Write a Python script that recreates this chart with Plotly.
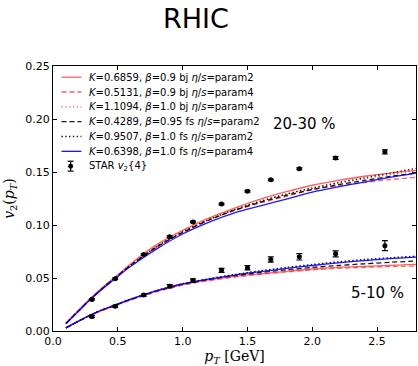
import plotly.graph_objects as go

# ---------------- data ----------------
pt_grid = [0.1, 0.2, 0.3, 0.4, 0.5, 0.6, 0.8, 1.0, 1.2, 1.4, 1.6, 1.8, 2.0, 2.2, 2.4, 2.6, 2.8]

# 20-30 % centrality model curves
c2030_k06859_bj_p2 = [0.0075, 0.020, 0.032, 0.043, 0.053, 0.0635, 0.0815, 0.095, 0.1065, 0.116, 0.1245, 0.1315, 0.1375, 0.142, 0.146, 0.149, 0.1515]
c2030_k05131_bj_p4 = [0.0072, 0.0195, 0.0315, 0.0425, 0.0525, 0.062, 0.079, 0.093, 0.1045, 0.1135, 0.121, 0.127, 0.1335, 0.137, 0.140, 0.1428, 0.145]
c2030_k11094_bj_p4 = [0.0072, 0.0195, 0.0315, 0.0425, 0.0525, 0.0625, 0.080, 0.0935, 0.105, 0.1145, 0.1225, 0.129, 0.1345, 0.1395, 0.1435, 0.1475, 0.1515]
c2030_k04289_fs_p2 = [0.007, 0.0193, 0.0313, 0.0422, 0.052, 0.062, 0.0793, 0.093, 0.1045, 0.114, 0.1215, 0.128, 0.1335, 0.138, 0.142, 0.1458, 0.149]
c2030_k09507_fs_p2 = [0.007, 0.0193, 0.0313, 0.0422, 0.052, 0.062, 0.0795, 0.0935, 0.105, 0.1145, 0.1225, 0.1292, 0.135, 0.140, 0.1445, 0.149, 0.1535]
c2030_k06398_fs_p4 = [0.0068, 0.019, 0.031, 0.0415, 0.0515, 0.061, 0.0775, 0.0915, 0.1025, 0.1115, 0.118, 0.1245, 0.131, 0.136, 0.1405, 0.145, 0.149]

# 5-10 % centrality model curves
c0510_k06859_bj_p2 = [0.003, 0.0095, 0.0155, 0.0205, 0.025, 0.0295, 0.0375, 0.0438, 0.0482, 0.0515, 0.054, 0.0563, 0.0585, 0.060, 0.061, 0.062, 0.0628]
c0510_k05131_bj_p4 = [0.003, 0.0093, 0.0153, 0.0203, 0.025, 0.0293, 0.037, 0.0432, 0.0475, 0.0508, 0.0535, 0.0557, 0.0577, 0.0591, 0.0601, 0.0608, 0.0613]
c0510_k11094_bj_p4 = [0.003, 0.0095, 0.0158, 0.021, 0.0255, 0.030, 0.038, 0.0445, 0.049, 0.053, 0.0565, 0.0595, 0.0622, 0.0647, 0.0668, 0.0686, 0.070]
c0510_k04289_fs_p2 = [0.003, 0.0095, 0.0157, 0.0208, 0.0253, 0.0298, 0.0378, 0.0442, 0.0487, 0.0522, 0.0552, 0.0578, 0.060, 0.0618, 0.0634, 0.0648, 0.066]
c0510_k09507_fs_p2 = [0.003, 0.0095, 0.0158, 0.021, 0.0256, 0.0301, 0.0382, 0.0447, 0.0493, 0.0533, 0.0568, 0.060, 0.0628, 0.0653, 0.0675, 0.0692, 0.0706]
c0510_k06398_fs_p4 = [0.003, 0.0095, 0.0158, 0.021, 0.0255, 0.030, 0.038, 0.0445, 0.049, 0.0528, 0.056, 0.059, 0.0618, 0.0643, 0.0664, 0.0682, 0.0697]

# STAR v2{4} data
star_2030_pt = [0.30, 0.48, 0.70, 0.90, 1.08, 1.30, 1.50, 1.68, 1.90, 2.18, 2.56]
star_2030_v2 = [0.0298, 0.0494, 0.0721, 0.0889, 0.1029, 0.1197, 0.1318, 0.1426, 0.1530, 0.1632, 0.1690]
star_2030_err = [0.0008, 0.0008, 0.0008, 0.0008, 0.0008, 0.0008, 0.0008, 0.0008, 0.0009, 0.0013, 0.0020]

star_0510_pt = [0.30, 0.48, 0.70, 0.90, 1.08, 1.30, 1.50, 1.68, 1.90, 2.18, 2.56]
star_0510_v2 = [0.0137, 0.0233, 0.0339, 0.0423, 0.0476, 0.0572, 0.0597, 0.0674, 0.0700, 0.0728, 0.0805]
star_0510_err = [0.0010, 0.0010, 0.0010, 0.0015, 0.0015, 0.0019, 0.0021, 0.0025, 0.0030, 0.0028, 0.0047]

legend_labels = [
    "<i>K</i>=0.6859, <i>β</i>=0.9 bj <i>η</i>/<i>s</i>=param2",
    "<i>K</i>=0.5131, <i>β</i>=0.9 bj <i>η</i>/<i>s</i>=param4",
    "<i>K</i>=1.1094, <i>β</i>=1.0 bj <i>η</i>/<i>s</i>=param4",
    "<i>K</i>=0.4289, <i>β</i>=0.95 fs <i>η</i>/<i>s</i>=param2",
    "<i>K</i>=0.9507, <i>β</i>=1.0 fs <i>η</i>/<i>s</i>=param2",
    "<i>K</i>=0.6398, <i>β</i>=1.0 fs <i>η</i>/<i>s</i>=param4",
]
star_label = "STAR <i>v</i><sub>2</sub>{4}"
title_text = "RHIC"
label_2030 = "20-30 %"
label_0510 = "5-10 %"
x_ticks = [0.0, 0.5, 1.0, 1.5, 2.0, 2.5]
y_ticks = [0.00, 0.05, 0.10, 0.15, 0.20, 0.25]

# ---------------- styles ----------------
RED = "rgba(255,40,40,0.75)"
BLUE = "rgba(0,0,255,0.9)"
BLACK = "rgba(0,0,0,0.9)"
DASH = "5px,3px"
DOT = "1.4px,2.4px"
styles = [
    dict(color=RED, dash="solid"),
    dict(color=RED, dash=DASH),
    dict(color=RED, dash=DOT),
    dict(color=BLACK, dash=DASH),
    dict(color=BLACK, dash=DOT),
    dict(color=BLUE, dash="solid"),
]
LW = 1.3

curves_2030 = [c2030_k06859_bj_p2, c2030_k05131_bj_p4, c2030_k11094_bj_p4,
               c2030_k04289_fs_p2, c2030_k09507_fs_p2, c2030_k06398_fs_p4]
curves_0510 = [c0510_k06859_bj_p2, c0510_k05131_bj_p4, c0510_k11094_bj_p4,
               c0510_k04289_fs_p2, c0510_k09507_fs_p2, c0510_k06398_fs_p4]

fig = go.Figure()
for group in (curves_2030, curves_0510):
    for vals, st, lab in zip(group, styles, legend_labels):
        fig.add_trace(go.Scatter(
            x=pt_grid, y=vals, mode="lines", name=lab, showlegend=False,
            line=dict(color=st["color"], dash=st["dash"], width=LW, shape="spline", smoothing=0.8),
            hoverinfo="skip"))

for xs, ys, es in ((star_2030_pt, star_2030_v2, star_2030_err), (star_0510_pt, star_0510_v2, star_0510_err)):
    fig.add_trace(go.Scatter(
        x=xs, y=ys, mode="markers", name=star_label, showlegend=False,
        marker=dict(color="black", size=5),
        error_y=dict(type="data", array=es, visible=True, color="black", thickness=1.2, width=3)))

# ---------------- layout ----------------
W, H = 418, 366
ML, MR, MT, MB = 53, 1, 66, 32
PW, PH = W - ML - MR, H - MT - MB

def px_x(p):
    return (p - ML) / PW

def px_y(p):
    return (H - MB - p) / PH

shapes = []
annotations = []
row0, dy = 77.3, 15.0
for i, (lab, st) in enumerate(zip(legend_labels, styles)):
    yy = px_y(row0 + dy * i)
    shapes.append(dict(type="line", xref="paper", yref="paper",
                       x0=px_x(61.5), x1=px_x(81.5), y0=yy, y1=yy,
                       line=dict(color=st["color"], dash=st["dash"], width=LW)))
    annotations.append(dict(text=lab, xref="paper", yref="paper", x=px_x(87), y=yy,
                            xanchor="left", yanchor="middle", showarrow=False,
                            font=dict(size=10, color="black", family="DejaVu Sans")))
# STAR legend entry
ys = row0 + dy * 6
yy = px_y(ys)
cx = 70.7
shapes.append(dict(type="line", xref="paper", yref="paper", x0=px_x(cx), x1=px_x(cx),
                   y0=px_y(ys - 5), y1=px_y(ys + 5), line=dict(color="black", width=1.2)))
for d in (-5, 5):
    shapes.append(dict(type="line", xref="paper", yref="paper", x0=px_x(cx - 3), x1=px_x(cx + 3),
                       y0=px_y(ys + d), y1=px_y(ys + d), line=dict(color="black", width=1.2)))
shapes.append(dict(type="circle", xref="paper", yref="paper", x0=px_x(cx - 2.5), x1=px_x(cx + 2.5),
                   y0=px_y(ys - 2.5), y1=px_y(ys + 2.5), fillcolor="black", line=dict(width=0)))
annotations.append(dict(text=star_label, xref="paper", yref="paper", x=px_x(87), y=yy,
                        xanchor="left", yanchor="middle", showarrow=False,
                        font=dict(size=10, color="black", family="DejaVu Sans")))

annotations.append(dict(text=label_2030, xref="x", yref="y", x=1.94, y=0.195, showarrow=False,
                        xanchor="center", yanchor="middle",
                        font=dict(size=15, color="black", family="DejaVu Sans")))
annotations.append(dict(text=label_0510, xref="x", yref="y", x=2.50, y=0.0355, showarrow=False,
                        xanchor="center", yanchor="middle",
                        font=dict(size=15, color="black", family="DejaVu Sans")))

axis_common = dict(showline=True, linecolor="black", linewidth=1, mirror="allticks",
                   ticks="inside", ticklen=4, tickwidth=1, tickcolor="black",
                   showgrid=False, zeroline=False,
                   tickfont=dict(size=11, color="black", family="DejaVu Sans"))

fig.update_layout(
    width=W, height=H,
    margin=dict(l=ML, r=MR, t=MT, b=MB, pad=0),
    paper_bgcolor="white", plot_bgcolor="white",
    showlegend=False,
    title=dict(text=title_text, x=196 / W, xref="container", xanchor="center",
               y=1 - 19 / H, yref="container", yanchor="middle",
               font=dict(size=27, color="black", family="DejaVu Sans")),
    xaxis=dict(range=[0, 2.8], tickvals=x_ticks, ticktext=[f"{v:.1f}" for v in x_ticks],
               title=dict(text="<i>p</i><sub><i>T</i></sub> [GeV]", standoff=7,
                          font=dict(size=14, color="black", family="DejaVu Serif")),
               **axis_common),
    yaxis=dict(range=[0, 0.25], tickvals=y_ticks, ticktext=[f"{v:.2f}" for v in y_ticks],
               title=dict(text="<i>v</i><sub>2</sub>(<i>p</i><sub><i>T</i></sub>)", standoff=7,
                          font=dict(size=14, color="black", family="DejaVu Serif")),
               **axis_common),
    shapes=shapes,
    annotations=annotations,
)

# remove the default page margin so the 418x366 figure fills the window exactly
fig.write_html("out.html", config={"displayModeBar": False},
               post_script="document.body.style.margin='0';document.body.style.overflow='hidden';")
